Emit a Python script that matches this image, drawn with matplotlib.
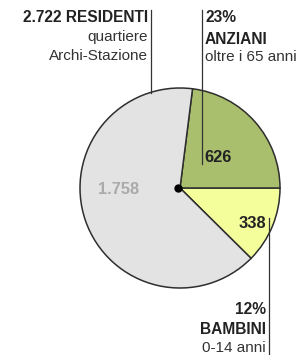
import matplotlib
matplotlib.use("Agg")
import matplotlib.pyplot as plt

# ── Data ──────────────────────────────────────────────────────────────
groups = ['BAMBINI', 'ANZIANI', 'ALTRI']
values = [338, 626, 1758]
colors = ['#F4FF9C', '#A9BF6E', '#E3E3E3']
total = 2722

W, H = 301, 355
fig = plt.figure(figsize=(W / 100, H / 100), dpi=100)
ax = fig.add_axes([0, 0, 1, 1])

plt.rcParams['font.family'] = ['Liberation Sans', 'DejaVu Sans']

CX, CY, R = 180, H - 188, 100
start = -values[0] / total * 360

ax.pie(values, colors=colors, startangle=start, counterclock=True,
       center=(CX, CY), radius=R, frame=True,
       wedgeprops=dict(edgecolor='#2E2E2E', linewidth=1.1))
ax.set_xlim(0, W)
ax.set_ylim(0, H)
ax.set_aspect('auto')
ax.axis('off')

# centre dot
ax.plot([CX - 2], [CY], 'o', color='black', ms=5, zorder=5)

LC = '#333333'
def py(y):
    return H - y

# leader lines
ax.plot([151, 151], [py(10), py(93)], color=LC, lw=0.9)
ax.plot([202, 202], [py(10), py(164)], color=LC, lw=0.9)
ax.plot([269, 269], [py(218), py(H + 2)], color=LC, lw=0.9)

fs = 11.0
fb = 11.2
fn = 11.8
# residents
ax.text(148, py(18), f'{total:,}'.replace(',', '.') + ' RESIDENTI', ha='right', va='center',
        fontsize=fb, fontweight='bold', color='#222222')
ax.text(148, py(37), 'quartiere', ha='right', va='center', fontsize=fs, color='#333333')
ax.text(148, py(56), 'Archi-Stazione', ha='right', va='center', fontsize=fs, color='#333333')

# anziani
ax.text(205, py(18), f'{round(values[1] / total * 100)}%', ha='left', va='center',
        fontsize=fb, fontweight='bold', color='#222222')
ax.text(205, py(39), groups[1], ha='left', va='center', fontsize=fb, fontweight='bold', color='#222222')
ax.text(205, py(57), 'oltre i 65 anni', ha='left', va='center', fontsize=fs, color='#333333')

# bambini
ax.text(266, py(310), f'{round(values[0] / total * 100)}%', ha='right', va='center',
        fontsize=fb, fontweight='bold', color='#222222')
ax.text(266, py(329), groups[0], ha='right', va='center', fontsize=fb, fontweight='bold', color='#222222')
ax.text(266, py(348), '0-14 anni', ha='right', va='center', fontsize=fs, color='#333333')

# slice values
ax.text(204, py(158), str(values[1]), ha='left', va='center', fontsize=fn,
        fontweight='bold', color='#222222')
ax.text(266, py(223), str(values[0]), ha='right', va='center', fontsize=fn,
        fontweight='bold', color='#222222')
ax.text(119, py(190), f'{values[2]:,}'.replace(',', '.'), ha='center', va='center',
        fontsize=fn, fontweight='bold', color='#AAAAAA')

fig.savefig('out.png', dpi=100)
